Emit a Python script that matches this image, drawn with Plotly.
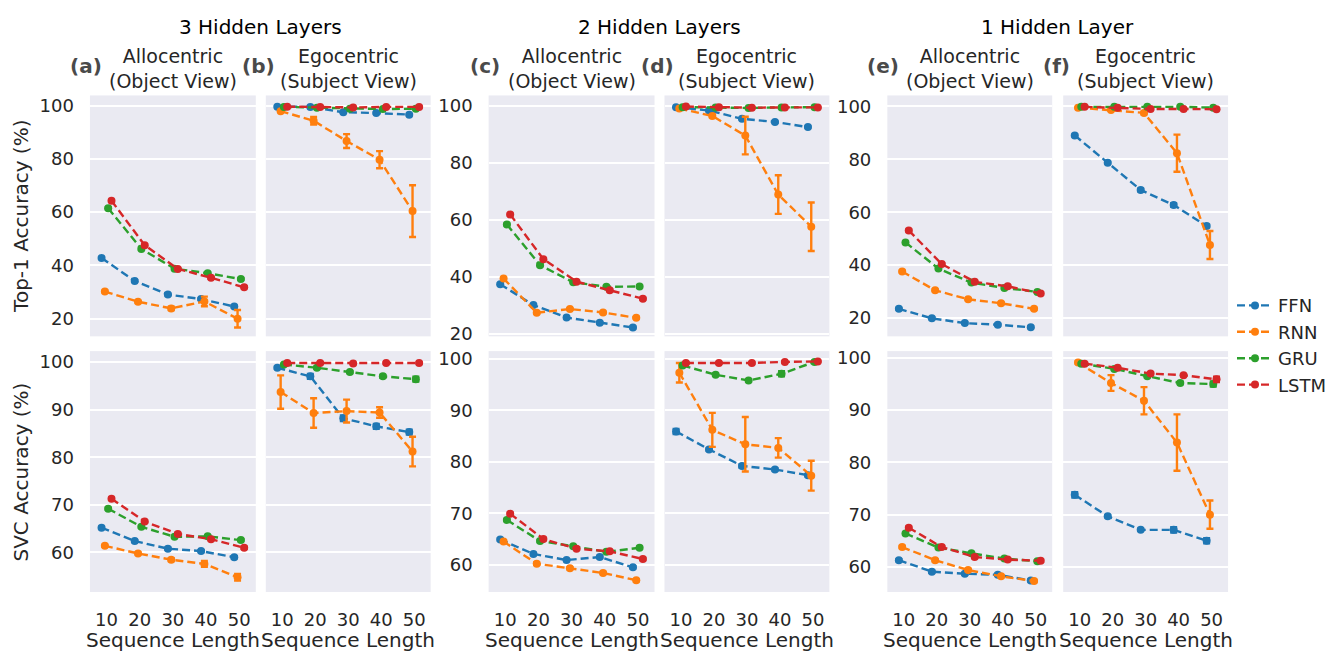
import plotly.graph_objects as go

W, H = 1331, 659

seq_len = [10, 20, 30, 40, 50]
models = ["FFN", "RNN", "GRU", "LSTM"]
colors = ["#1f77b4", "#ff7f0e", "#2ca02c", "#d62728"]

# ---- Top-1 accuracy (%) : rows = FFN, RNN, GRU, LSTM ----
top1_3_allo = [[42.8, 34.2, 29.1, 27.4, 24.6],
               [30.2, 26.4, 23.9, 26.5, 20.0],
               [61.5, 46.2, 38.8, 37.1, 34.9],
               [64.3, 47.6, 38.7, 35.4, 31.8]]
top1_3_allo_err = [[0.3, 0.3, 0.3, 0.3, 0.3],
                   [0.3, 0.3, 0.6, 1.8, 3.3],
                   [0.3, 0.3, 0.3, 0.3, 0.3],
                   [0.3, 0.3, 0.3, 0.3, 0.3]]
top1_3_ego = [[99.6, 99.5, 97.5, 97.2, 96.6],
              [97.9, 94.3, 86.7, 79.7, 60.4],
              [99.5, 99.2, 98.8, 98.7, 98.8],
              [99.6, 99.5, 99.3, 99.5, 99.5]]
top1_3_ego_err = [[0.1, 0.1, 0.2, 0.2, 0.2],
                  [0.3, 1.4, 2.6, 3.2, 9.7],
                  [0.1, 0.1, 0.1, 0.1, 0.1],
                  [0.1, 0.1, 0.1, 0.1, 0.1]]

top1_2_allo = [[37.3, 30.0, 25.6, 23.8, 22.1],
               [39.3, 27.3, 28.6, 27.4, 25.5],
               [58.3, 44.0, 38.0, 36.4, 36.5],
               [61.8, 46.1, 38.2, 35.2, 32.2]]
top1_2_allo_err = [[0.3, 0.3, 0.3, 0.3, 0.3],
                   [0.3, 0.3, 0.3, 0.3, 0.3],
                   [0.3, 0.3, 0.3, 0.3, 0.3],
                   [0.3, 0.3, 0.3, 0.3, 0.3]]
top1_2_ego = [[99.5, 98.3, 95.4, 94.3, 92.5],
              [99.0, 96.4, 89.5, 68.8, 57.5],
              [99.5, 99.4, 99.2, 99.4, 99.5],
              [99.7, 99.5, 99.3, 99.4, 99.4]]
top1_2_ego_err = [[0.1, 0.2, 0.2, 0.2, 0.2],
                  [0.3, 0.5, 6.6, 6.8, 8.5],
                  [0.1, 0.1, 0.1, 0.1, 0.1],
                  [0.1, 0.1, 0.1, 0.1, 0.1]]

top1_1_allo = [[23.5, 19.9, 18.1, 17.5, 16.5],
               [37.6, 30.5, 27.1, 25.6, 23.5],
               [48.6, 38.7, 33.4, 31.4, 29.9],
               [53.1, 40.4, 33.7, 32.0, 29.3]]
top1_1_allo_err = [[0.3, 0.3, 0.3, 0.3, 0.3],
                   [0.3, 0.3, 0.3, 0.3, 0.3],
                   [0.3, 0.3, 0.3, 0.3, 0.3],
                   [0.3, 0.3, 0.3, 0.3, 0.3]]
top1_1_ego = [[89.0, 78.7, 68.4, 62.7, 54.8],
              [99.5, 98.6, 97.5, 82.3, 47.6],
              [99.8, 99.8, 99.8, 99.8, 99.5],
              [99.8, 99.5, 99.0, 99.0, 98.9]]
top1_1_ego_err = [[0.3, 0.3, 0.5, 0.7, 0.5],
                  [0.2, 0.3, 0.5, 7.0, 5.3],
                  [0.1, 0.1, 0.1, 0.1, 0.1],
                  [0.1, 0.1, 0.1, 0.1, 0.1]]

# ---- SVC accuracy (%) ----
svc_3_allo = [[65.2, 62.4, 60.8, 60.3, 59.0],
              [61.4, 59.8, 58.5, 57.6, 54.8],
              [69.2, 65.4, 63.3, 63.4, 62.6],
              [71.3, 66.5, 63.9, 62.8, 61.0]]
svc_3_allo_err = [[0.2, 0.2, 0.2, 0.2, 0.2],
                  [0.2, 0.2, 0.3, 0.6, 0.7],
                  [0.2, 0.2, 0.2, 0.2, 0.2],
                  [0.2, 0.2, 0.2, 0.2, 0.2]]
svc_3_ego = [[98.8, 97.0, 88.2, 86.5, 85.3],
             [93.7, 89.3, 89.7, 89.4, 81.2],
             [99.5, 98.8, 97.9, 97.0, 96.4],
             [99.8, 99.8, 99.7, 99.8, 99.8]]
svc_3_ego_err = [[0.2, 0.5, 0.6, 0.5, 0.5],
                 [3.5, 3.1, 2.4, 1.1, 3.1],
                 [0.1, 0.2, 0.2, 0.3, 0.5],
                 [0.1, 0.1, 0.1, 0.1, 0.1]]

svc_2_allo = [[64.9, 62.1, 60.9, 61.5, 59.5],
              [64.5, 60.2, 59.3, 58.4, 57.0],
              [68.7, 64.6, 63.6, 62.5, 63.3],
              [69.9, 65.0, 63.1, 62.6, 61.1]]
svc_2_allo_err = [[0.2, 0.2, 0.2, 0.2, 0.2],
                  [0.2, 0.2, 0.2, 0.2, 0.2],
                  [0.2, 0.2, 0.2, 0.2, 0.2],
                  [0.2, 0.2, 0.2, 0.2, 0.2]]
svc_2_ego = [[85.9, 82.4, 79.2, 78.5, 77.4],
             [97.3, 86.2, 83.4, 82.7, 77.3],
             [98.7, 96.9, 95.8, 97.1, 99.4],
             [99.2, 99.2, 99.2, 99.4, 99.5]]
svc_2_ego_err = [[0.5, 0.2, 0.3, 0.2, 0.2],
                 [1.9, 3.3, 5.3, 1.9, 2.9],
                 [0.2, 0.2, 0.2, 0.5, 0.2],
                 [0.1, 0.1, 0.1, 0.1, 0.1]]

svc_1_allo = [[61.3, 59.1, 58.7, 58.5, 57.4],
              [63.8, 61.3, 59.4, 58.2, 57.3],
              [66.4, 63.7, 62.6, 61.6, 61.1],
              [67.5, 63.8, 61.9, 61.4, 61.2]]
svc_1_allo_err = [[0.2, 0.2, 0.2, 0.2, 0.2],
                  [0.2, 0.2, 0.2, 0.2, 0.2],
                  [0.2, 0.2, 0.2, 0.2, 0.2],
                  [0.2, 0.2, 0.2, 0.2, 0.2]]
svc_1_ego = [[73.8, 69.7, 67.1, 67.1, 65.0],
             [99.1, 95.2, 91.8, 83.8, 70.0],
             [98.9, 97.9, 96.5, 95.2, 95.0],
             [98.9, 98.1, 97.0, 96.7, 95.9]]
svc_1_ego_err = [[0.5, 0.2, 0.2, 0.5, 0.5],
                 [0.2, 1.5, 2.6, 5.4, 2.7],
                 [0.1, 0.2, 0.2, 0.2, 0.5],
                 [0.1, 0.1, 0.2, 0.2, 0.5]]

group_titles = ["3 Hidden Layers", "2 Hidden Layers", "1 Hidden Layer"]
panel_letters = ["(a)", "(b)", "(c)", "(d)", "(e)", "(f)"]
view_titles = ["Allocentric<br>(Object View)", "Egocentric<br>(Subject View)"]
row_titles = ["Top-1 Accuracy (%)", "SVC Accuracy (%)"]

panels = [
    [(top1_3_allo, top1_3_allo_err), (top1_3_ego, top1_3_ego_err),
     (top1_2_allo, top1_2_allo_err), (top1_2_ego, top1_2_ego_err),
     (top1_1_allo, top1_1_allo_err), (top1_1_ego, top1_1_ego_err)],
    [(svc_3_allo, svc_3_allo_err), (svc_3_ego, svc_3_ego_err),
     (svc_2_allo, svc_2_allo_err), (svc_2_ego, svc_2_ego_err),
     (svc_1_allo, svc_1_allo_err), (svc_1_ego, svc_1_ego_err)],
]

# ---- layout geometry (pixels) ----
col_px = [(90, 256), (266, 431), (489, 655), (665, 830), (888, 1053), (1064, 1229)]
row_px = [(93, 338), (353, 598)]
y_ranges = [[(13.4, 103.8), (19.0, 103.6), (13.1, 104.1)],
            [(51.7, 102.3), (54.7, 101.5), (55.2, 101.3)]]
y_ticks = [[20, 40, 60, 80, 100], [60, 70, 80, 90, 100]]
dodge = [-0.15, -0.05, 0.05, 0.15]

FONT = "DejaVu Sans"
TXT = "#262626"

fig = go.Figure()
layout = {}

for r in range(2):
    for c in range(6):
        n = r * 6 + c + 1
        xa = "x" if n == 1 else f"x{n}"
        ya = "y" if n == 1 else f"y{n}"
        vals, errs = panels[r][c]
        for m in range(4):
            xs = [i + dodge[m] for i in range(len(seq_len))]
            fig.add_trace(go.Scatter(
                x=xs, y=vals[m], xaxis=xa, yaxis=ya,
                mode="lines+markers", name=models[m],
                legendgroup=models[m], showlegend=(n == 1),
                line=dict(color=colors[m], width=2.4, dash="8px,4px"),
                marker=dict(color=colors[m], size=8),
                error_y=dict(type="data", array=errs[m], visible=True,
                             color=colors[m], thickness=2.4, width=3.5),
                cliponaxis=False,
            ))
        x0, x1 = col_px[c]
        y0, y1 = row_px[r]
        layout["xaxis" if n == 1 else f"xaxis{n}"] = dict(
            domain=[x0 / W, x1 / W], anchor=ya, range=[-0.5, 4.5],
            tickvals=list(range(len(seq_len))), ticktext=[str(s) for s in seq_len],
            showticklabels=(r == 1), showgrid=False, zeroline=False, showline=False,
            ticks="", tickfont=dict(size=18, color=TXT, family=FONT),
            ticklabelstandoff=15, fixedrange=True)
        lo, hi = y_ranges[r][c // 2]
        layout["yaxis" if n == 1 else f"yaxis{n}"] = dict(
            domain=[1 - y1 / H, 1 - y0 / H], anchor=xa, range=[lo, hi],
            tickvals=y_ticks[r], showticklabels=(c % 2 == 0),
            showgrid=True, gridcolor="white", gridwidth=1.6,
            zeroline=False, showline=False, ticks="",
            tickfont=dict(size=18, color=TXT, family=FONT),
            ticklabelstandoff=15, fixedrange=True)

annotations = []
# group titles
for g in range(3):
    cx = (col_px[2 * g][0] + col_px[2 * g + 1][1]) / 2
    annotations.append(dict(text=group_titles[g], x=cx / W, y=1 - 23 / H, xref="paper", yref="paper",
                            showarrow=False, font=dict(size=20, color="black", family=FONT),
                            xanchor="center", yanchor="middle"))
# panel titles
for c in range(6):
    cx = (col_px[c][0] + col_px[c][1]) / 2
    annotations.append(dict(text=view_titles[c % 2], x=cx / W, y=1 - 66 / H, xref="paper", yref="paper",
                            showarrow=False, font=dict(size=19, color=TXT, family=FONT),
                            xanchor="center", yanchor="middle", align="center"))
    lx = col_px[c][0] - (4 if c % 2 == 0 else 7)
    annotations.append(dict(text="<b>" + panel_letters[c] + "</b>", x=lx / W, y=1 - 63 / H,
                            xref="paper", yref="paper", showarrow=False,
                            font=dict(size=20, color="#4a4a4a", family=FONT),
                            xanchor="center", yanchor="middle"))
    # x-axis titles
    annotations.append(dict(text="Sequence Length", x=cx / W, y=1 - 647 / H, xref="paper", yref="paper",
                            showarrow=False, font=dict(size=20, color=TXT, family=FONT),
                            xanchor="center", yanchor="middle"))
# row titles
for r in range(2):
    cy = (row_px[r][0] + row_px[r][1]) / 2
    annotations.append(dict(text=row_titles[r], x=21 / W, y=1 - cy / H, xref="paper", yref="paper",
                            showarrow=False, textangle=-90, font=dict(size=20, color=TXT, family=FONT),
                            xanchor="center", yanchor="middle"))

fig.update_layout(
    **layout,
    width=W, height=H,
    margin=dict(l=0, r=0, t=0, b=0),
    paper_bgcolor="white",
    plot_bgcolor="#EAEAF2",
    font=dict(family=FONT, color=TXT),
    annotations=annotations,
    legend=dict(x=1233 / W, y=1 - 288 / H, xanchor="left", yanchor="top",
                font=dict(size=18, color=TXT, family=FONT), bgcolor="rgba(0,0,0,0)",
                itemwidth=36, tracegroupgap=0),
)

fig.write_html("out.html")
